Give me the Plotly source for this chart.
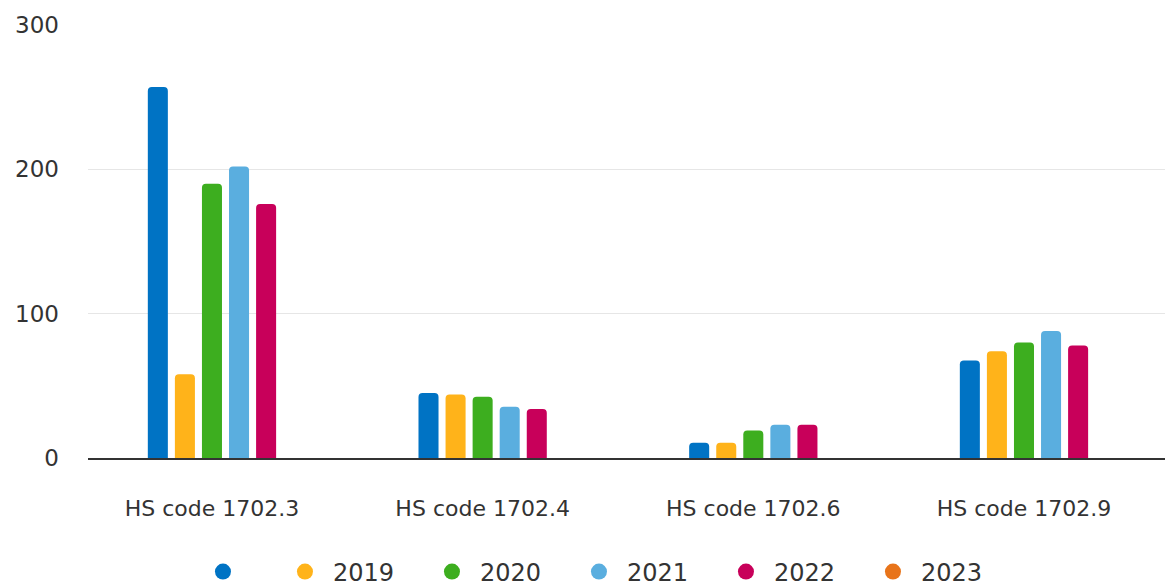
import plotly.graph_objects as go

categories = ["HS code 1702.3", "HS code 1702.4", "HS code 1702.6", "HS code 1702.9"]
series_names = [" ", "2019", "2020", "2021", "2022", "2023"]
values_blank = [257, 45, 10.5, 67.5]
values_2019 = [58, 44, 10.5, 74]
values_2020 = [190, 42.5, 19, 80]
values_2021 = [202, 35.5, 23, 88]
values_2022 = [176, 34, 23, 78]
values_2023 = [None, None, None, None]
colors = ["#0073C4", "#FFB31A", "#3DAE1F", "#5AAEDF", "#C8005A", "#E8741A"]

all_values = [values_blank, values_2019, values_2020, values_2021, values_2022]

fig = go.Figure()
for name, vals, col in zip(series_names[:5], all_values, colors[:5]):
    fig.add_trace(go.Bar(x=categories, y=vals, name=name, marker_color=col,
                         marker_line_width=0, showlegend=False))

for name, col in zip(series_names, colors):
    fig.add_trace(go.Scatter(x=[None], y=[None], mode="markers", name=name,
                             legendwidth=21 if name.strip() == "" else 86,
                             marker=dict(symbol="circle", size=21, color=col)))

fig.update_layout(
    width=1165, height=586,
    margin=dict(l=88, r=0, t=25, b=128, autoexpand=False),
    paper_bgcolor="white", plot_bgcolor="white",
    font=dict(family="DejaVu Sans", size=22, color="#333333"),
    barmode="group", bargap=0.5, bargroupgap=0.26, barcornerradius=4,
    showlegend=True,
    legend=dict(orientation="h", x=0.518, xanchor="center", xref="container",
                y=0.024, yanchor="middle", yref="container", itemwidth=46,
                font=dict(size=24, color="#333333")),
)
fig.update_xaxes(range=[-0.458, 3.521], showgrid=False, showline=True,
                 linecolor="#333333", linewidth=1.5, ticks="", ticklabelstandoff=30,
                 tickfont=dict(size=22))
fig.update_yaxes(range=[0, 300], tickvals=[0, 100, 200, 300], showgrid=True,
                 gridcolor="#e6e6e6", gridwidth=1, zeroline=False, showline=False,
                 ticklabelstandoff=28, tickfont=dict(size=23))

fig.write_html("out.html")
